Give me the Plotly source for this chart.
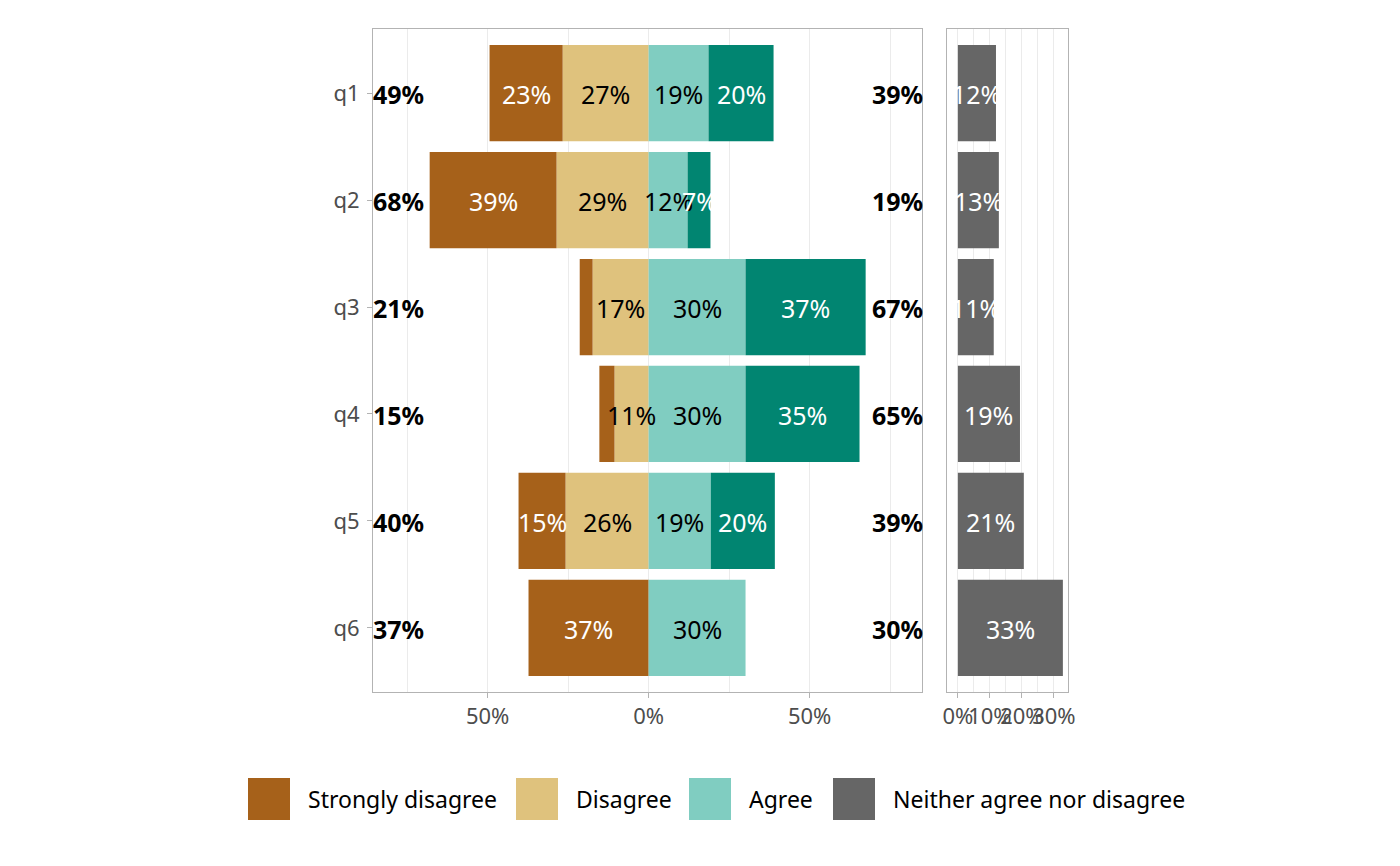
import plotly.graph_objects as go

questions = ["q1", "q2", "q3", "q4", "q5", "q6"]

# shares in percent
strongly_disagree = [22.7, 39.4, 4.0, 4.7, 14.6, 37.3]
disagree = [26.7, 28.6, 17.4, 10.6, 25.8, 0.0]
agree = [18.6, 12.1, 30.1, 30.1, 19.3, 30.1]
strongly_agree = [20.2, 7.1, 37.3, 35.4, 19.9, 0.0]
neutral = [11.9, 12.8, 11.2, 19.4, 20.6, 32.8]

total_left = [49, 68, 21, 15, 40, 37]
total_right = [39, 19, 67, 65, 39, 30]

colors = {
    "Strongly disagree": "#A6611A",
    "Disagree": "#DFC27D",
    "Agree": "#80CDC1",
    "Strongly agree": "#018571",
    "Neither agree nor disagree": "#666666",
}

FONT = "Noto Sans"
OFF = 8  # browser body margin
W, H = 1400 - 2 * OFF, 866 - 2 * OFF


def px(x):
    return (x - OFF) / W


def py(y):
    return (H - (y - OFF)) / H


def lab(v):
    return f"{v:.0f}%" if v >= 5 else ""


fig = go.Figure()

# diverging bars (relative stacking: negatives pile away from 0 in trace order)
segments = [
    ("Disagree", [-v for v in disagree]),
    ("Strongly disagree", [-v for v in strongly_disagree]),
    ("Agree", agree),
    ("Strongly agree", strongly_agree),
]
for name, vals in segments:
    fig.add_trace(go.Bar(
        x=vals, y=questions, orientation="h", width=0.9,
        marker=dict(color=colors[name], line=dict(width=0)),
        name=name, showlegend=False, hoverinfo="skip",
    ))

# neutral panel
fig.add_trace(go.Bar(
    x=neutral, y=questions, orientation="h", width=0.9,
    marker=dict(color=colors["Neither agree nor disagree"], line=dict(width=0)),
    xaxis="x2", yaxis="y2", showlegend=False, hoverinfo="skip",
))


def add_labels(xs, texts, color, bold=False, xref="x", yref="y"):
    for x, q, t in zip(xs, questions, texts):
        if not t:
            continue
        fig.add_annotation(
            x=x, y=q, xref=xref, yref=yref, text=t, showarrow=False,
            xanchor="center", yanchor="middle", yshift=-1,
            font=dict(family=FONT, size=25, color=color,
                      weight="bold" if bold else "normal"),
        )


# segment labels at segment centres
d_mid = [-d / 2 for d in disagree]
sd_mid = [-d - s / 2 for d, s in zip(disagree, strongly_disagree)]
a_mid = [a / 2 for a in agree]
sa_mid = [a + s / 2 for a, s in zip(agree, strongly_agree)]
add_labels(sd_mid, [lab(v) for v in strongly_disagree], "white")
add_labels(d_mid, [lab(v) for v in disagree], "black")
add_labels(a_mid, [lab(v) for v in agree], "black")
add_labels(sa_mid, [lab(v) for v in strongly_agree], "white")

# totals on each side
add_labels([-77.8] * len(questions), [f"{v}%" for v in total_left], "black", bold=True)
add_labels([77.2] * len(questions), [f"{v}%" for v in total_right], "black", bold=True)

# neutral labels
add_labels([v / 2 for v in neutral], [f"{v:.0f}%" for v in neutral], "white",
           xref="x2", yref="y2")

grid = "#EBEBEB"
border = "#B3B3B3"
tickfont = dict(family=FONT, size=22, color="#4D4D4D")
y_dom = [py(692), py(29)]

fig.update_layout(
    width=W, height=H,
    barmode="relative",
    plot_bgcolor="white", paper_bgcolor="white",
    margin=dict(l=0, r=0, t=0, b=0),
    font=dict(family=FONT),
    showlegend=False,
    xaxis=dict(
        domain=[px(373), px(922)], range=[-85.6, 84.9],
        tickvals=[-50, 0, 50], ticktext=["50%", "0%", "50%"],
        tickfont=tickfont, ticks="outside", ticklen=5, tickcolor=border, tickangle=0,
        showgrid=True, gridcolor=grid, gridwidth=1,
        minor=dict(dtick=25, tick0=0, showgrid=True, gridcolor=grid, gridwidth=0.6, ticks=""),
        showline=True, linecolor=border, linewidth=1, mirror=True,
        zeroline=False, automargin=False, fixedrange=True,
    ),
    yaxis=dict(
        domain=y_dom, type="category", categoryarray=questions,
        range=[5.6, -0.6], tickfont=tickfont,
        ticks="outside", ticklen=5, tickcolor=border, ticklabelstandoff=3,
        showgrid=False, showline=True, linecolor=border, linewidth=1, mirror=True,
        zeroline=False, automargin=False, fixedrange=True,
    ),
    xaxis2=dict(
        domain=[px(947), px(1068)], range=[-3.4, 34.4], anchor="y2",
        tickvals=[0, 10, 20, 30], ticktext=["0%", "10%", "20%", "30%"],
        tickfont=tickfont, ticks="outside", ticklen=5, tickcolor=border, tickangle=0,
        showgrid=True, gridcolor=grid, gridwidth=1,
        minor=dict(dtick=5, tick0=0, showgrid=True, gridcolor=grid, gridwidth=0.6, ticks=""),
        showline=True, linecolor=border, linewidth=1, mirror=True,
        zeroline=False, automargin=False, fixedrange=True,
    ),
    yaxis2=dict(
        domain=y_dom, anchor="x2", type="category", categoryarray=questions,
        range=[5.6, -0.6], showticklabels=False, ticks="",
        showgrid=False, showline=True, linecolor=border, linewidth=1, mirror=True,
        zeroline=False, automargin=False, fixedrange=True,
    ),
)

# legend drawn as key squares + labels (Strongly agree is absent in the original)
legend_items = ["Strongly disagree", "Disagree", "Agree", "Neither agree nor disagree"]
key_left = [248, 516, 689, 833]
for name, kx in zip(legend_items, key_left):
    fig.add_shape(
        type="rect", xref="paper", yref="paper",
        x0=px(kx), x1=px(kx + 42), y0=py(820), y1=py(778),
        fillcolor=colors[name], line=dict(width=0),
    )
    fig.add_annotation(
        xref="paper", yref="paper", x=px(kx + 58), y=py(799),
        text=name, showarrow=False, xanchor="left", yanchor="middle",
        font=dict(family=FONT, size=23, color="black"),
    )

fig.write_html("out.html")
